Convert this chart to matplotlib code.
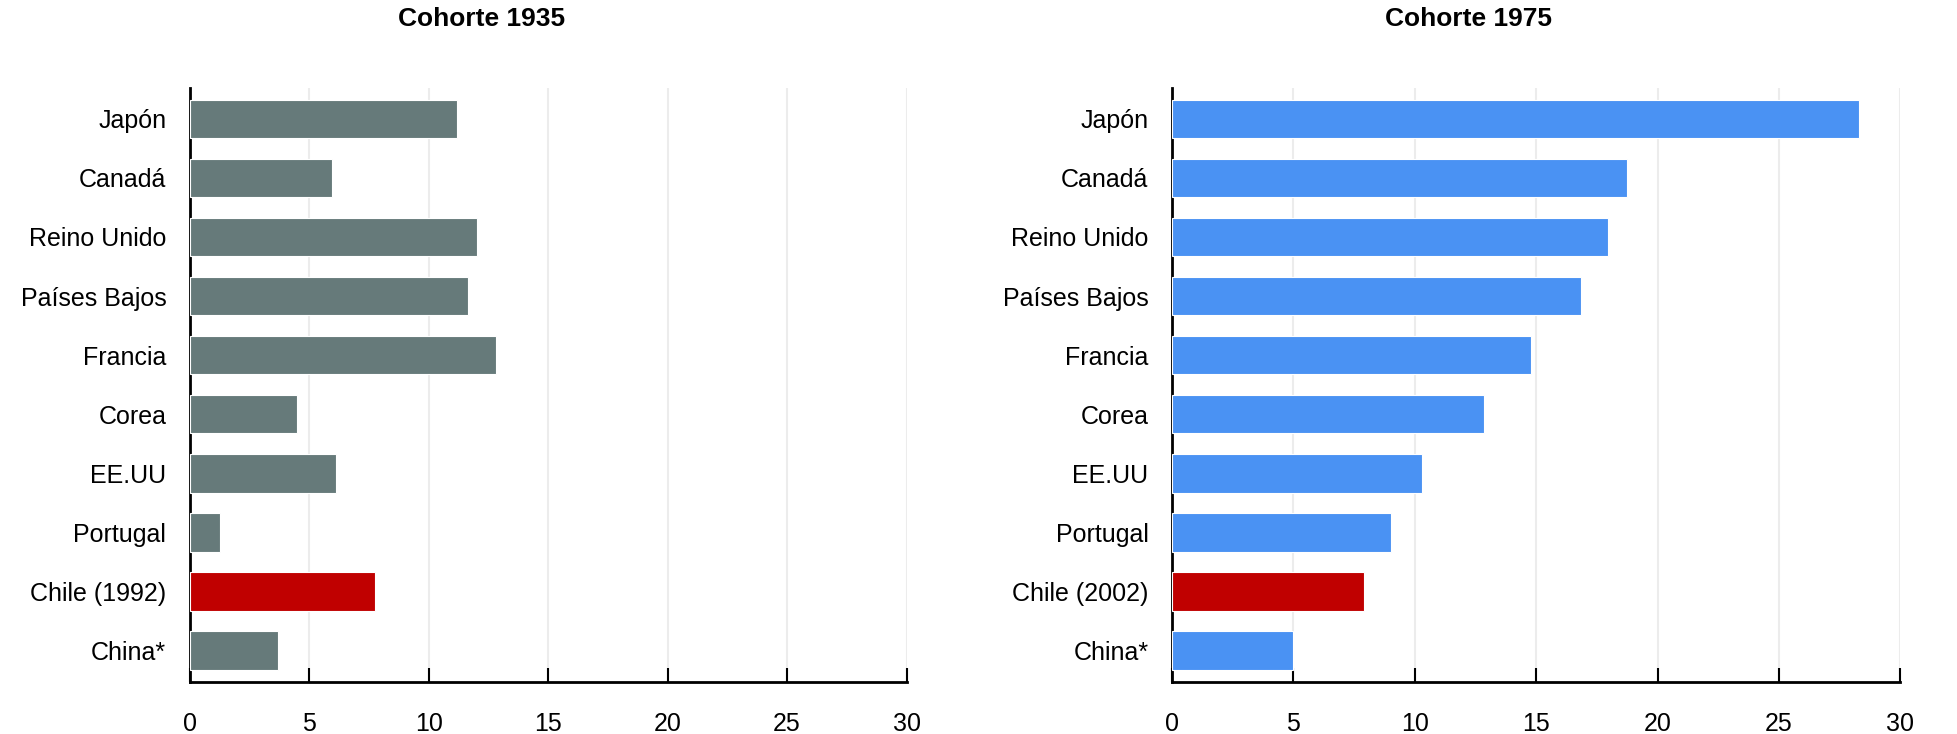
import matplotlib
matplotlib.use("Agg")
import matplotlib.pyplot as plt

countries = ["Japón", "Canadá", "Reino Unido", "Países Bajos", "Francia",
             "Corea", "EE.UU", "Portugal", "Chile (1992)", "China*"]
countries_1975 = ["Japón", "Canadá", "Reino Unido", "Países Bajos", "Francia",
                  "Corea", "EE.UU", "Portugal", "Chile (2002)", "China*"]
values_1935 = [11.2, 5.95, 12.0, 11.65, 12.8, 4.5, 6.1, 1.25, 7.75, 3.7]
values_1975 = [28.3, 18.75, 17.95, 16.85, 14.8, 12.85, 10.3, 9.0, 7.9, 5.0]
titles = ["Cohorte 1935", "Cohorte 1975"]

GREY = "#667a7a"
BLUE = "#4a92f3"
RED = "#c00000"

plt.rcParams["font.family"] = ["Liberation Sans", "DejaVu Sans"]

fig = plt.figure(figsize=(19.58, 7.34), dpi=100)
ax1 = fig.add_axes([0.097, 0.071, 0.366, 0.809])
ax2 = fig.add_axes([0.5986, 0.071, 0.372, 0.809])

panels = [(ax1, countries, values_1935, GREY), (ax2, countries_1975, values_1975, BLUE)]
for i, (ax, labels, vals, base) in enumerate(panels):
    colors = [RED if lab.startswith("Chile") else base for lab in labels]
    y = list(range(len(labels)))
    ax.barh(y, vals, height=0.65, color=colors, edgecolor="white", linewidth=0.8, zorder=3)
    ax.set_ylim(len(labels) - 0.47, -0.52)
    ax.set_yticks(y)
    ax.set_yticklabels(labels, fontsize=18)
    ax.set_xlim(0, 30)
    ax.set_xticks(range(0, 31, 5))
    ax.tick_params(axis="x", direction="in", length=10, width=1.5, labelsize=18, pad=22)
    ax.tick_params(axis="y", length=0, pad=17)
    ax.grid(axis="x", color="#ececec", linewidth=1.5, zorder=0)
    for s in ["top", "right"]:
        ax.spines[s].set_visible(False)
    for s in ["left", "bottom"]:
        ax.spines[s].set_linewidth(2)
        ax.spines[s].set_color("black")
    # titles sit over the whole panel, labels included, so a bit left of the axes centre
    ax.set_title(titles[i], fontsize=19, fontweight="bold", x=0.407, pad=45)

fig.savefig("out.png", dpi=100)
